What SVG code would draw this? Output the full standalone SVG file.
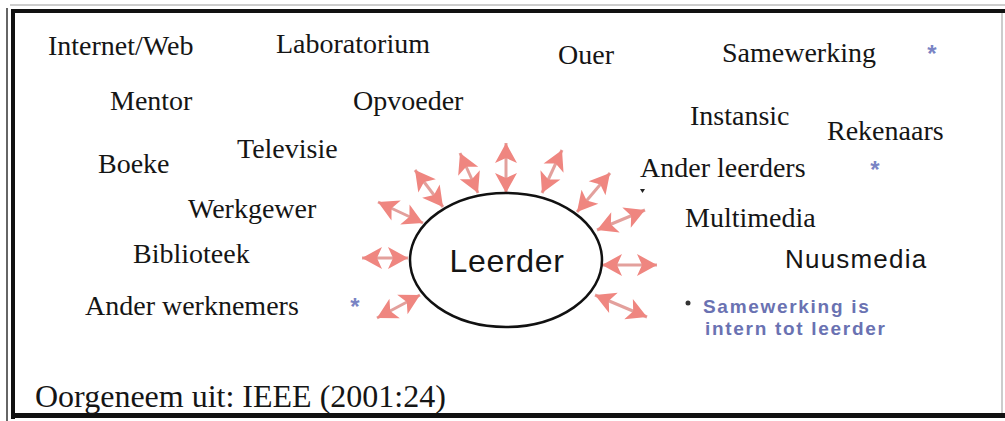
<svg xmlns="http://www.w3.org/2000/svg" width="1005" height="421" viewBox="0 0 1005 421">
<style>
.lbl{font-family:"Liberation Serif","Times New Roman",serif;font-size:28px;fill:#151515}
.sans{font-family:"Liberation Sans",Arial,sans-serif;fill:#151515}
.star{font-family:"Liberation Sans",Arial,sans-serif;font-size:24px;font-weight:bold;fill:#7a84c4;text-anchor:middle}
.note{font-family:"Liberation Sans",Arial,sans-serif;font-size:19px;font-weight:bold;fill:#6a72b2;letter-spacing:1.7px}
.arr{stroke:#e3a09c;stroke-width:3;fill:none;marker-start:url(#head);marker-end:url(#head)}
</style>
<defs>
<marker id="head" markerUnits="userSpaceOnUse" markerWidth="22" markerHeight="24" refX="20" refY="11" orient="auto-start-reverse" overflow="visible">
<path d="M0,0 L20,11 L0,22 L5,11 z" fill="#ef8680"/>
</marker>
</defs>
<rect width="1005" height="421" fill="#ffffff"/>
<g id="frame">
<line x1="10" y1="5" x2="1005" y2="5" stroke="#9a9a9a" stroke-width="1"/>
<line x1="7" y1="8" x2="7" y2="421" stroke="#333" stroke-width="1.5"/>
<rect x="11" y="9" width="994" height="4" fill="#111"/>
<rect x="11" y="9" width="4" height="410" fill="#111"/>
<rect x="11" y="413" width="994" height="5" fill="#111"/>
<line x1="1002" y1="13" x2="1002" y2="413" stroke="#bbb" stroke-width="1.5"/>
</g>
<g id="connectors">
<line class="arr" x1="362" y1="258" x2="408" y2="258"/>
<line class="arr" x1="377" y1="318" x2="420" y2="295"/>
<line class="arr" x1="378" y1="202" x2="423" y2="223"/>
<line class="arr" x1="415" y1="170" x2="443" y2="207"/>
<line class="arr" x1="460" y1="153" x2="478" y2="193"/>
<line class="arr" x1="506" y1="143" x2="506" y2="193"/>
<line class="arr" x1="562" y1="150" x2="542" y2="193"/>
<line class="arr" x1="610" y1="173" x2="577" y2="212"/>
<line class="arr" x1="645" y1="210" x2="597" y2="230"/>
<line class="arr" x1="602" y1="265" x2="657" y2="265"/>
<line class="arr" x1="595" y1="295" x2="647" y2="317"/>
</g>
<g id="leerder">
<ellipse cx="506" cy="260" rx="96" ry="67" fill="#fff" stroke="#111" stroke-width="2.5"/>
<text class="sans" x="507" y="272" font-size="32" text-anchor="middle" letter-spacing="0.7">Leerder</text>
</g>
<g id="internet"><text class="lbl" x="48" y="55">Internet/Web</text></g>
<g id="laboratorium"><text class="lbl" x="276" y="53">Laboratorium</text></g>
<g id="ouer"><text class="lbl" x="558" y="64">Ouer</text></g>
<g id="samewerking"><text class="lbl" x="722" y="62">Samewerking</text><text class="star" x="932" y="62">*</text></g>
<g id="mentor"><text class="lbl" x="110" y="110">Mentor</text></g>
<g id="opvoeder"><text class="lbl" x="353" y="110">Opvoeder</text></g>
<g id="instansic"><text class="lbl" x="690" y="125">Instansic</text></g>
<g id="rekenaars"><text class="lbl" x="827" y="140">Rekenaars</text><text class="star" x="875" y="178">*</text></g>
<g id="televisie"><text class="lbl" x="237" y="158">Televisie</text></g>
<g id="boeke"><text class="lbl" x="98" y="173">Boeke</text></g>
<g id="anderleerders"><text class="lbl" x="640" y="177">Ander leerders</text><path d="M640,189 L645,189 L642.5,193 z" fill="#222"/></g>
<g id="werkgewer"><text class="lbl" x="188" y="218">Werkgewer</text></g>
<g id="multimedia"><text class="lbl" x="685" y="227">Multimedia</text></g>
<g id="biblioteek"><text class="lbl" x="133" y="263">Biblioteek</text></g>
<g id="nuusmedia"><text class="sans" x="785" y="268" font-size="26" letter-spacing="1.2">Nuusmedia</text></g>
<g id="anderwerknemers"><text class="lbl" x="85" y="315">Ander werknemers</text><text class="star" x="355" y="315">*</text></g>
<g id="note">
<circle cx="688" cy="303" r="2.5" fill="#333"/>
<text class="note" x="703" y="313">Samewerking is</text>
<text class="note" x="705" y="335">intern tot leerder</text>
</g>
<g id="source"><text class="lbl" x="35" y="407" style="font-size:32px">Oorgeneem uit: IEEE (2001:24)</text></g>
</svg>
